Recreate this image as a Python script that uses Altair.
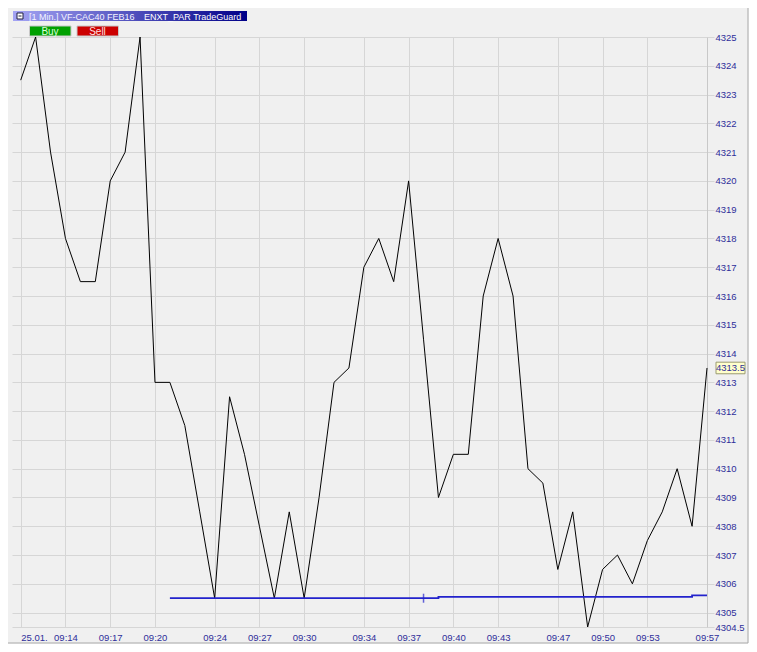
import altair as alt
import pandas as pd

# ---- data ----
times = ["09:11","09:12","09:13","09:14","09:15","09:16","09:17","09:18","09:19","09:20",
         "09:21","09:22","09:23","09:24","09:25","09:26","09:27","09:28","09:29","09:30",
         "09:31","09:32","09:33","09:34","09:35","09:36","09:37","09:38","09:39","09:40",
         "09:41","09:42","09:43","09:44","09:45","09:46","09:47","09:48","09:49","09:50",
         "09:51","09:52","09:53","09:54","09:55","09:56","09:57"]
prices = [4323.5, 4325, 4321, 4318, 4316.5, 4316.5, 4320, 4321, 4325, 4313,
          4313, 4311.5, 4308.5, 4305.5, 4312.5, 4310.5, 4308, 4305.5, 4308.5, 4305.5,
          4309, 4313, 4313.5, 4317, 4318, 4316.5, 4320, 4314.5, 4309, 4310.5,
          4310.5, 4316, 4318, 4316, 4310, 4309.5, 4306.5, 4308.5, 4304.5, 4306.5,
          4307, 4306, 4307.5, 4308.5, 4310, 4308, 4313.5]

stop_times = ["09:21", "09:39", "09:56", "09:57"]
stop_values = [4305.5, 4305.55, 4305.6, 4305.6]
marker_times = ["09:38"]
marker_values = [4305.5]

x_tick_times = ["09:11","09:14","09:17","09:20","09:24","09:27","09:30","09:34",
                "09:37","09:40","09:43","09:47","09:50","09:53","09:57"]
y_tick_values = [4304.5] + [float(v) for v in range(4305, 4326)]
last_label = ["4313.5"]

DAY = "2016-01-25T"

def ts(t):
    return DAY + t + ":00"

def dt(h, m, s=0):
    return alt.DateTime(year=2016, month=1, date=25, hours=h, minutes=m, seconds=s)

price_df = pd.DataFrame({"t": [ts(t) for t in times], "v": prices})
stop_df = pd.DataFrame({"t": [ts(t) for t in stop_times], "v": stop_values})
marker_df = pd.DataFrame({"t": [ts(t) for t in marker_times], "v": marker_values})
last_df = pd.DataFrame({"t": [ts(times[-1])], "v": [prices[-1]], "lab": last_label})
one = pd.DataFrame({"a": [0]})

AXIS_BLUE = "#2e2e9a"
GRID = "#d6d6d6"

x_values = [dt(int(t[:2]), int(t[3:])) for t in x_tick_times]

xenc = alt.X(
    "t:T",
    scale=alt.Scale(domain=[dt(9, 10, 25), dt(9, 57, 0)]),
    axis=alt.Axis(
        values=x_values, format="%H:%M",
        labelExpr="datum.label == '09:11' ? '25.01.' : datum.label",
        labelAlign={"condition": {"test": "datum.value < time(datetime(2016,0,25,9,12))", "value": "left"}, "value": "center"},
        labelFlush=False, labelOverlap=False,
        grid=True, gridColor=GRID, gridWidth=1,
        ticks=False, domain=False,
        labelColor=AXIS_BLUE, labelFont="Liberation Sans", labelFontSize=9.5,
        labelPadding=5, title=None,
    ),
)
yenc = alt.Y(
    "v:Q",
    scale=alt.Scale(domain=[4304.5, 4325], nice=False, zero=False),
    axis=alt.Axis(
        orient="right", values=y_tick_values, format=".1~f",
        labelOverlap=False, labelFlush=False,
        grid=True, gridColor=GRID, gridWidth=1,
        ticks=True, tickColor=GRID, tickSize=7,
        domain=True, domainColor="#c8c8c8",
        labelColor=AXIS_BLUE, labelFont="Liberation Sans", labelFontSize=9.5,
        labelPadding=1, labelBaseline="middle", title=None,
    ),
)

price_line = alt.Chart(price_df).mark_line(color="#000000", strokeWidth=1).encode(x=xenc, y=yenc)
stop_line = alt.Chart(stop_df).mark_line(color="#2222cc", strokeWidth=1.8, interpolate="step-after").encode(x=xenc, y=yenc)
stop_mark = alt.Chart(marker_df).mark_tick(orient="vertical", color="#2222cc", size=9, thickness=1.5).encode(x=xenc, y=yenc)

box_path = "M-1,-0.4L1,-0.4L1,0.4L-1,0.4Z"
last_box = alt.Chart(last_df).mark_point(
    shape=box_path, size=841, filled=True, fill="#ffffcc", stroke="#9a9a70",
    strokeWidth=1, opacity=1, xOffset=23.5
).encode(x=xenc, y=yenc)
last_text = alt.Chart(last_df).mark_text(
    color=AXIS_BLUE, font="Liberation Sans", fontSize=9.5, dx=23.5, align="center", baseline="middle"
).encode(x=xenc, y=yenc, text="lab:N")

# ---- window chrome (header bar, buttons, frame) ----
grad = alt.LinearGradient(
    gradient="linear", x1=0, x2=1, y1=0, y2=0,
    stops=[alt.GradientStop(color="#a4a4f4", offset=0), alt.GradientStop(color="#000088", offset=1)],
)
header = alt.Chart(one).mark_rect(fill=grad).encode(
    x=alt.value(1), x2=alt.value(235), y=alt.value(-26), y2=alt.value(-16))
icon = alt.Chart(one).mark_rect(fill="#ffffff", stroke="#202040", strokeWidth=1).encode(
    x=alt.value(5), x2=alt.value(11), y=alt.value(-24), y2=alt.value(-18))
icon_minus = alt.Chart(one).mark_rule(color="#202040", strokeWidth=1).encode(
    x=alt.value(6.5), x2=alt.value(9.5), y=alt.value(-21))
header_text1 = alt.Chart(one).mark_text(
    text="[1 Min.] VF-CAC40 FEB16", color="#f4f4ff",
    font="Liberation Sans", fontSize=9, align="left", baseline="middle"
).encode(x=alt.value(17), y=alt.value(-20.5))
header_text2 = alt.Chart(one).mark_text(
    text="ENXT_PAR TradeGuard", color="#ffffff",
    font="Liberation Sans", fontSize=9, align="left", baseline="middle"
).encode(x=alt.value(132), y=alt.value(-20.5))
buy = alt.Chart(one).mark_rect(fill="#00a000", stroke="#c8c8c8", strokeWidth=1).encode(
    x=alt.value(17.5), x2=alt.value(59), y=alt.value(-11), y2=alt.value(-1))
buy_t = alt.Chart(one).mark_text(text="Buy", color="#d8ffd8", font="Liberation Sans", fontSize=10,
                                 baseline="middle").encode(x=alt.value(38), y=alt.value(-5.5))
sell = alt.Chart(one).mark_rect(fill="#cc0000", stroke="#c8c8c8", strokeWidth=1).encode(
    x=alt.value(65), x2=alt.value(106.5), y=alt.value(-11), y2=alt.value(-1))
sell_t = alt.Chart(one).mark_text(text="Sell", color="#ffe0e0", font="Liberation Sans", fontSize=10,
                                  baseline="middle").encode(x=alt.value(85.5), y=alt.value(-5.5))
frame_b = alt.Chart(one).mark_rule(color="#a8a8a8", strokeWidth=1).encode(
    x=alt.value(-4), x2=alt.value(736), y=alt.value(606))
frame_r = alt.Chart(one).mark_rule(color="#a8a8a8", strokeWidth=1).encode(
    x=alt.value(736), y=alt.value(-29), y2=alt.value(606))
out_r = alt.Chart(one).mark_rect(fill="#ffffff").encode(
    x=alt.value(736.5), x2=alt.value(760), y=alt.value(-29), y2=alt.value(620))
out_b = alt.Chart(one).mark_rect(fill="#ffffff").encode(
    x=alt.value(-4), x2=alt.value(760), y=alt.value(606.5), y2=alt.value(620))

chart = alt.layer(
    price_line, stop_line, stop_mark, last_box, last_text,
    header, icon, icon_minus, header_text1, header_text2, buy, buy_t, sell, sell_t,
    out_r, out_b, frame_b, frame_r,
).properties(
    width=695, height=590,
    autosize=alt.AutoSizeParams(type="none"),
    padding={"left": 4, "top": 29, "right": 42, "bottom": 17},
).configure(background="#f0f0f0").configure_view(fill="#f0f0f0", stroke=None
).configure_axis(labelOverlap=False)

chart.save("out.html", embed_options={"renderer": "svg", "actions": False})
